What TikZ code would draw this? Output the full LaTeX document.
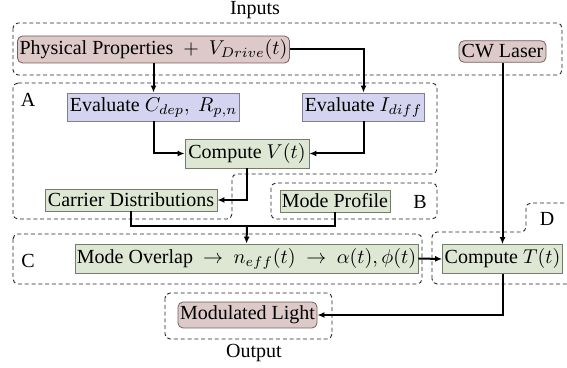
\documentclass[tikz,border=0pt]{standalone}
\usepackage{fontspec}
\setmainfont{Liberation Serif}
\usetikzlibrary{arrows.meta}
\definecolor{pinkfill}{RGB}{222,201,201}
\definecolor{pinkdraw}{RGB}{115,95,95}
\definecolor{bluefill}{RGB}{212,212,240}
\definecolor{bluedraw}{RGB}{125,125,155}
\definecolor{greenfill}{RGB}{222,231,211}
\definecolor{greendraw}{RGB}{115,125,105}
\begin{document}
\begin{tikzpicture}[x=0.5pt,y=-0.5pt,
  box/.style={draw, line width=0.4pt, inner xsep=1pt, inner ysep=0pt, font=\fontsize{10}{12}\selectfont, anchor=center},
  inbox/.style={box, fill=pinkfill, draw=pinkdraw, rounded corners=2.5pt},
  evbox/.style={box, fill=bluefill, draw=bluedraw},
  opbox/.style={box, fill=greenfill, draw=greendraw},
  region/.style={draw=black!85, line width=0.45pt, dash pattern=on 2pt off 1.4pt, rounded corners=2.5pt},
  lbl/.style={inner sep=0pt, font=\fontsize{10}{12}\selectfont},
  flow/.style={line width=1pt, -{Latex[length=3.5pt,width=3pt]}},
  link/.style={line width=1pt}
]
\useasboundingbox (0,0) rectangle (567,368);
\clip (0,0) rectangle (567,368);

% regions
\draw[region] (13,23) rectangle (562,75);
\draw[region] (13,83) -- (437,83) -- (437,174) -- (232,174) -- (232,219) -- (13,219) -- cycle;
\draw[region] (271,183) rectangle (437,219);
\draw[region] (13,234) rectangle (422,284);
\draw[region] (432,284) -- (432,232) -- (526,232) -- (526,203) -- (590,203) -- (590,284) -- cycle;
\draw[region] (165,293) rectangle (332,339);

% region labels
\node[lbl] (linputs) at (255,10) {Inputs};
\node[lbl] (la) at (28,100) {A};
\node[lbl] (lb) at (420,202) {B};
\node[lbl] (lc) at (28,261) {C};
\node[lbl] (ld) at (547,219) {D};
\node[lbl] (lout) at (254,353) {Output};

% nodes
\node[inbox, minimum width=129pt, minimum height=13.5pt] (phys) at (153.5,49.5) {Physical Properties~ $+$~ $V_{Drive}(t)$};
\node[inbox, minimum width=43.5pt, minimum height=10.75pt] (cw) at (502.5,51.5) {CW Laser};
\node[evbox, minimum width=81.5pt, minimum height=14pt] (evc) at (153.5,107) {Evaluate $C_{dep},\ R_{p,n}$};
\node[evbox, minimum width=58.5pt, minimum height=14pt] (evi) at (363.5,107) {Evaluate $I_{diff}$};
\node[opbox, minimum width=62pt, minimum height=14.5pt] (cv) at (247,153.5) {Compute $V(t)$};
\node[opbox, minimum width=86pt, minimum height=11pt] (cd) at (131,200) {Carrier Distributions};
\node[opbox, minimum width=55pt, minimum height=11pt] (mp) at (335,201) {Mode Profile};
\node[opbox, minimum width=166.5pt, minimum height=14.5pt] (mo) at (246.5,258.5) {Mode Overlap $\ \rightarrow\ n_{eff}(t)\ \rightarrow\ \alpha(t),\phi(t)$};
\node[opbox, minimum width=60pt, minimum height=14.5pt] (ct) at (502.5,259) {Compute $T(t)$};
\node[inbox, minimum width=69.5pt, minimum height=13pt] (ml) at (247.5,315) {Modulated Light};

% connectors
\draw[flow] (phys.south) -- (evc.north);
\draw[flow] (phys.east) -| (evi.north);
\draw[flow] (evc.south) |- (cv.west);
\draw[flow] (evi.south) |- (cv.east);
\draw[flow] (cv.south) |- (cd.east);
\coordinate (j) at (247,226);
\draw[link] (cd.south) |- (j) -| (mp.south);
\draw[flow] (j) -- (mo.north);
\draw[flow] (cw.south) -- (ct.north);
\draw[flow] (mo.east) -- (ct.west);
\draw[flow] (ct.south) |- (ml.east);
\end{tikzpicture}
\end{document}
